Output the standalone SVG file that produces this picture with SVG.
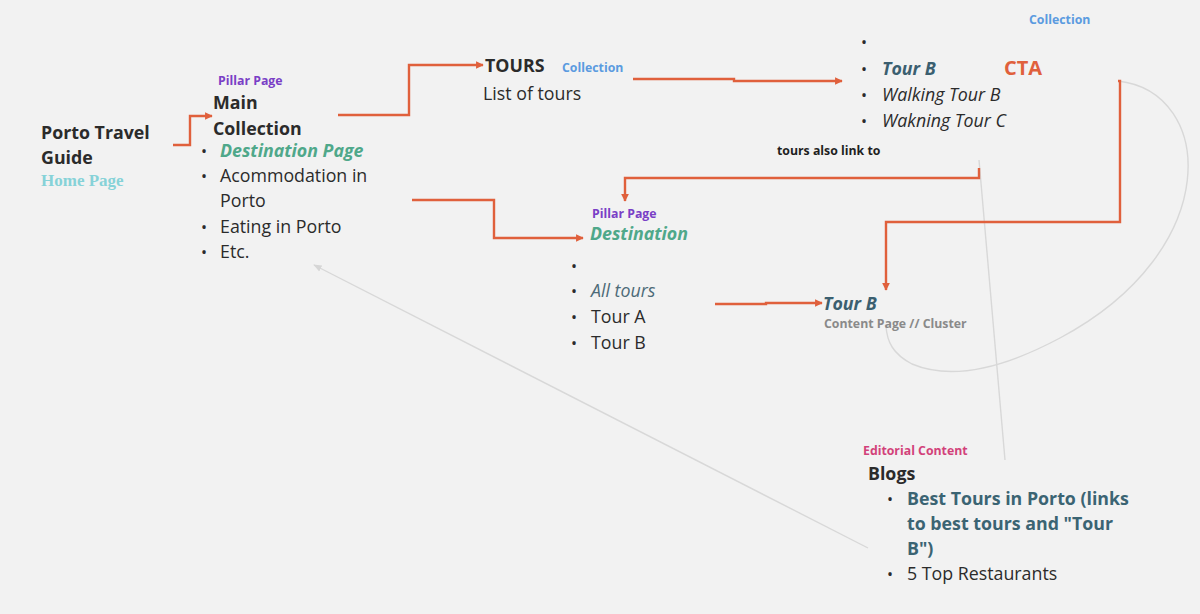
<svg xmlns="http://www.w3.org/2000/svg" width="1200" height="614" viewBox="0 0 1200 614">
<defs>
<marker id="ah" viewBox="0 0 10 10" refX="9" refY="5" markerWidth="3.2" markerHeight="3.2" orient="auto" markerUnits="strokeWidth"><path d="M0,0 L10,5 L0,10 z" fill="#e0603c"/></marker>
<marker id="ahg" viewBox="0 0 10 10" refX="9" refY="5" markerWidth="6" markerHeight="6" orient="auto" markerUnits="strokeWidth"><path d="M0,1 L10,5 L0,9 z" fill="#d6d6d6"/></marker>
<style>
text{font-family:"Open Sans","Liberation Sans",sans-serif;fill:#2b2b2b}
.h{font-size:17.8px;font-weight:700}
.r{font-size:17.8px}
.it{font-size:17.8px;font-style:italic}
.bi{font-size:17.8px;font-style:italic;font-weight:700}
.tag{font-size:12.3px;font-weight:700}
.pill{fill:#7a3fc6}
.coll{fill:#5b9be0}
.green{fill:#4fa88a}
.teal{fill:#3b5f70}
.bul{font-size:16px}
.c{fill:none;stroke:#e0603c;stroke-width:2.4;stroke-linejoin:miter}
.g{fill:none;stroke:#d8d8d8;stroke-width:1.4}
</style>
</defs>
<rect width="1200" height="614" fill="#f2f2f2"/>
<g id="connectors">
<path class="g" d="M1118,81 C1215,92 1225,250 1060,338 C1000,370 950,380 912,364 C893,354 887,342 886,326"/>
<line class="g" x1="979" y1="160" x2="1005" y2="460"/>
<line class="g" x1="868" y1="548" x2="314" y2="265" marker-end="url(#ahg)"/>
<path class="c" d="M173,145 H190 V116 H212" marker-end="url(#ah)"/>
<path class="c" d="M338,115 H409 V65 H483" marker-end="url(#ah)"/>
<path class="c" d="M633,79 H734 V81 H842" marker-end="url(#ah)"/>
<path class="c" d="M979,168 V178 H625 V201" marker-end="url(#ah)"/>
<path class="c" d="M412,200 H494 V238 H583" marker-end="url(#ah)"/>
<path class="c" d="M715,304 H766 V303 H822" marker-end="url(#ah)"/>
<path class="c" d="M1118,81 H1120 V222 H886 V290" marker-end="url(#ah)"/>
</g>
<g id="home">
<text class="h" x="41" y="139">Porto Travel</text>
<text class="h" x="41" y="164">Guide</text>
<text x="41" y="186" style="font-family:'Liberation Serif',serif;font-size:17px;font-weight:700;fill:#86d2d8">Home Page</text>
</g>
<g id="main-collection">
<text class="tag pill" x="218" y="85">Pillar Page</text>
<text class="h" x="213" y="109">Main</text>
<text class="h" x="213" y="135">Collection</text>
<text class="bul" x="201" y="157">•</text>
<text class="bi green" x="220" y="157">Destination Page</text>
<text class="bul" x="201" y="182">•</text>
<text class="r" x="220" y="182">Acommodation in</text>
<text class="r" x="220" y="207">Porto</text>
<text class="bul" x="201" y="233">•</text>
<text class="r" x="220" y="233">Eating in Porto</text>
<text class="bul" x="201" y="258">•</text>
<text class="r" x="220" y="258">Etc.</text>
</g>
<g id="tours">
<text class="h" x="485" y="72">TOURS</text>
<text class="tag coll" x="562" y="72">Collection</text>
<text class="r" x="483" y="100">List of tours</text>
</g>
<g id="tour-list">
<text class="tag coll" x="1029" y="24">Collection</text>
<text class="bul" x="861" y="48">•</text>
<text class="bul" x="861" y="75">•</text>
<text class="bi teal" x="882" y="75">Tour B</text>
<text x="1004" y="75" style="font-size:20px;font-weight:700;fill:#e0603c">CTA</text>
<text class="bul" x="861" y="101">•</text>
<text class="it" x="882" y="101">Walking Tour B</text>
<text class="bul" x="861" y="127">•</text>
<text class="it" x="882" y="127">Wakning Tour C</text>
<text class="tag" x="777" y="155" style="fill:#1f1f1f">tours also link to</text>
</g>
<g id="destination">
<text class="tag pill" x="592" y="218">Pillar Page</text>
<text class="bi green" x="590" y="240">Destination</text>
<text class="bul" x="571" y="272">•</text>
<text class="bul" x="571" y="297">•</text>
<text class="it" x="591" y="297" style="fill:#4d6b78">All tours</text>
<text class="bul" x="571" y="323">•</text>
<text class="r" x="591" y="323">Tour A</text>
<text class="bul" x="571" y="349">•</text>
<text class="r" x="591" y="349">Tour B</text>
</g>
<g id="tour-b">
<text class="bi teal" x="823" y="310">Tour B</text>
<text class="tag" x="824" y="328" style="fill:#8a8a8a">Content Page // Cluster</text>
</g>
<g id="blogs">
<text class="tag" x="863" y="455" style="fill:#d2427a">Editorial Content</text>
<text class="h" x="868" y="480">Blogs</text>
<text class="bul" x="887" y="505">•</text>
<text class="h" x="907" y="505" style="fill:#3b6473">Best Tours in Porto (links</text>
<text class="h" x="907" y="530" style="fill:#3b6473">to best tours and "Tour</text>
<text class="h" x="907" y="555" style="fill:#3b6473">B")</text>
<text class="bul" x="887" y="580">•</text>
<text class="r" x="907" y="580">5 Top Restaurants</text>
</g>
</svg>
